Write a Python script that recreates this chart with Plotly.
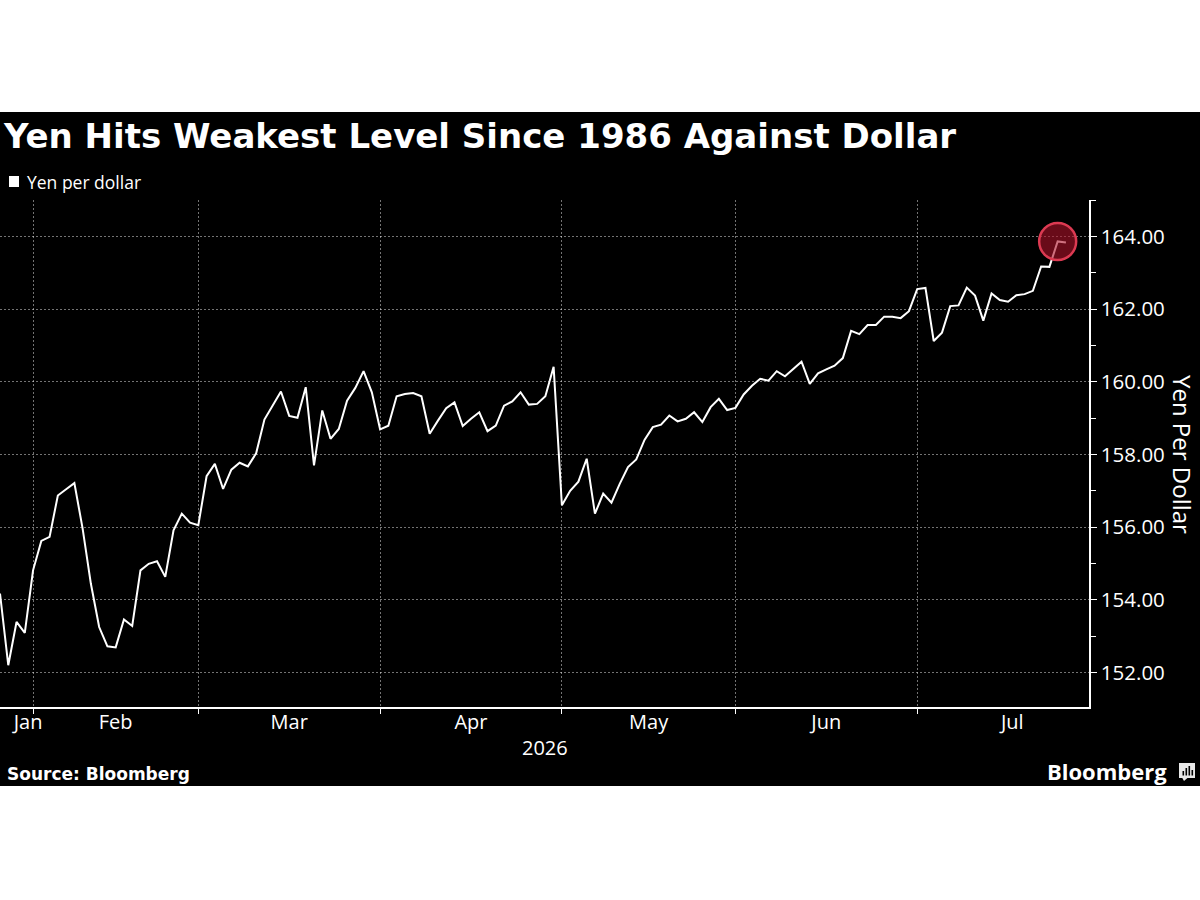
import pandas as pd
import plotly.graph_objects as go

# ---------------- data ----------------
START_DATE = "2026-01-27"
END_DATE = "2026-07-27"
YEN_PER_DOLLAR = [
    154.17, 152.20, 153.39, 153.09, 154.81, 155.62, 155.73, 156.87, 157.04, 157.21,
    155.96, 154.44, 153.25, 152.72, 152.69, 153.46, 153.28, 154.81, 154.99, 155.06,
    154.63, 155.91, 156.37, 156.12, 156.05, 157.40, 157.74, 157.05, 157.58, 157.77,
    157.67, 158.03, 158.96, 159.34, 159.73, 159.06, 159.01, 159.85, 157.70, 159.21,
    158.43, 158.70, 159.48, 159.83, 160.29, 159.71, 158.69, 158.79, 159.60, 159.66,
    159.69, 159.60, 158.57, 158.93, 159.27, 159.43, 158.78, 158.98, 159.16, 158.64,
    158.79, 159.34, 159.46, 159.71, 159.37, 159.39, 159.60, 160.41, 156.60, 157.00,
    157.25, 157.88, 156.37, 156.92, 156.67, 157.19, 157.65, 157.86, 158.40, 158.75,
    158.82, 159.07, 158.91, 158.98, 159.16, 158.89, 159.30, 159.53, 159.22, 159.28,
    159.65, 159.89, 160.08, 160.03, 160.29, 160.15, 160.35, 160.55, 159.94, 160.23,
    160.34, 160.44, 160.65, 161.40, 161.31, 161.56, 161.56, 161.79, 161.79, 161.75,
    161.94, 162.55, 162.58, 161.12, 161.35, 162.08, 162.10, 162.59, 162.37, 161.68,
    162.43, 162.25, 162.20, 162.38, 162.41, 162.50, 163.17, 163.16, 163.86, 163.83,
]
DATES = pd.bdate_range(START_DATE, END_DATE)
assert len(DATES) == len(YEN_PER_DOLLAR)

HIGHLIGHT_DATE = "2026-07-24"

MONTH_LABELS = ["Jan", "Feb", "Mar", "Apr", "May", "Jun", "Jul"]
MONTH_LABEL_DATES = ["2026-01-30 09:36", "2026-02-16", "2026-03-17", "2026-04-16",
                     "2026-05-15 12:00", "2026-06-16", "2026-07-16 12:00"]
MONTH_BOUNDARIES = ["2026-02-02", "2026-03-02", "2026-04-01", "2026-05-01",
                    "2026-06-01", "2026-07-01"]
YEAR_LABEL = "2026"
Y_TICKS = [152, 154, 156, 158, 160, 162, 164]
Y_MINOR_TICKS = [153, 155, 157, 159, 161, 163, 165]
X_RANGE = ["2026-01-27", "2026-07-29 19:00"]
Y_RANGE = [151.05, 165.0]

TITLE = "Yen Hits Weakest Level Since 1986 Against Dollar"
SERIES_NAME = "Yen per dollar"
Y_TITLE = "Yen Per Dollar"
SOURCE = "Source: Bloomberg"

# ---------------- layout geometry ----------------
W, H = 1200, 900
PL, PR, PT, PB = 0, 1089, 200, 707


def px(x):
    return (x - PL) / (PR - PL)


def py(y):
    return (PB - y) / (PB - PT)


SANS = "Open Sans"
BOLD = "DejaVu Sans"
GRID = "rgba(255,255,255,0.45)"

fig = go.Figure()
fig.add_trace(go.Scatter(
    x=DATES, y=YEN_PER_DOLLAR, mode="lines", name=SERIES_NAME,
    line=dict(color="white", width=2), showlegend=False, hoverinfo="x+y",
))
hi_val = YEN_PER_DOLLAR[list(DATES).index(pd.Timestamp(HIGHLIGHT_DATE))]
fig.add_trace(go.Scatter(
    x=[HIGHLIGHT_DATE], y=[hi_val], mode="markers", showlegend=False,
    marker=dict(size=37, color="rgba(175,18,42,0.6)",
                line=dict(color="#dc3a52", width=2.5)),
    cliponaxis=False,
))

fig.update_layout(
    width=W, height=H, autosize=False,
    margin=dict(l=PL, r=W - PR, t=PT, b=H - PB, pad=0),
    paper_bgcolor="white", plot_bgcolor="black",
    showlegend=False,
    xaxis=dict(
        type="date", range=X_RANGE,
        rangebreaks=[dict(bounds=["sat", "mon"])],
        tickmode="array", tickvals=MONTH_LABEL_DATES, ticktext=MONTH_LABELS,
        ticks="", showgrid=False, zeroline=False,
        showline=True, linecolor="white", linewidth=1.5,
        tickfont=dict(family=SANS, size=20, color="white"),
        ticklabelstandoff=-4,
        automargin=False, fixedrange=True,
        minor=dict(tickmode="array", tickvals=MONTH_BOUNDARIES, ticks="outside",
                   ticklen=5, tickwidth=1, tickcolor="white",
                   showgrid=True, gridcolor=GRID, griddash="2px,2px", gridwidth=1),
    ),
    yaxis=dict(
        side="right", range=Y_RANGE,
        tickmode="array", tickvals=Y_TICKS, tickformat=".2f",
        ticks="outside", ticklen=6, tickwidth=1, tickcolor="white",
        showgrid=True, gridcolor=GRID, griddash="2px,2px", gridwidth=1,
        zeroline=False, showline=True, linecolor="white", linewidth=1.5,
        tickfont=dict(family=SANS, size=20.5, color="white"),
        automargin=False, fixedrange=True,
        minor=dict(tickmode="array", tickvals=Y_MINOR_TICKS, ticks="outside",
                   ticklen=5, tickwidth=1, tickcolor="white", showgrid=False),
    ),
)

shapes = [
    # black chart card
    dict(type="rect", xref="paper", yref="paper", x0=px(0), x1=px(W), y0=py(786), y1=py(112),
         fillcolor="black", line=dict(width=0), layer="below"),
    # legend swatch
    dict(type="rect", xref="paper", yref="paper", x0=px(9), x1=px(19), y0=py(187), y1=py(176),
         fillcolor="white", line=dict(width=0)),
    # logo icon
    dict(type="rect", xref="paper", yref="paper", x0=px(1179), x1=px(1195), y0=py(778), y1=py(763),
         fillcolor="#e8e8e8", line=dict(width=0)),
    dict(type="path", xref="paper", yref="paper",
         path=f"M {px(1182)} {py(777.5)} L {px(1188)} {py(777.5)} L {px(1184)} {py(781)} Z",
         fillcolor="#e8e8e8", line=dict(width=0)),
]
for x0, top in [(1182.5, 771), (1185.5, 768), (1188.5, 766), (1191.5, 770)]:
    shapes.append(dict(type="rect", xref="paper", yref="paper", x0=px(x0), x1=px(x0 + 1.6),
                       y0=py(775.5), y1=py(top), fillcolor="black", line=dict(width=0)))
fig.update_layout(shapes=shapes)

ann = [
    dict(text=TITLE, x=px(1), y=py(136), xanchor="left", yanchor="middle",
         font=dict(family=BOLD, size=34, color="white", weight="bold")),
    dict(text=SERIES_NAME, x=px(25), y=py(182), xanchor="left", yanchor="middle",
         font=dict(family=SANS, size=17.5, color="white")),
    dict(text=YEAR_LABEL, x=px(545), y=py(747), xanchor="center", yanchor="middle",
         font=dict(family=SANS, size=20, color="white")),
    dict(text=Y_TITLE, x=px(1183), y=py(454), xanchor="center", yanchor="middle",
         textangle=90, font=dict(family=SANS, size=24, color="white")),
    dict(text=SOURCE, x=px(5), y=py(774), xanchor="left", yanchor="middle",
         font=dict(family=BOLD, size=17, color="white", weight="bold")),
    dict(text="Bloomberg", x=px(1169), y=py(771), xanchor="right", yanchor="middle",
         font=dict(family=SANS, size=22, color="white", weight="bold")),
]
for a in ann:
    a.update(xref="paper", yref="paper", showarrow=False)
fig.update_layout(annotations=ann)

fig.write_html("out.html")
